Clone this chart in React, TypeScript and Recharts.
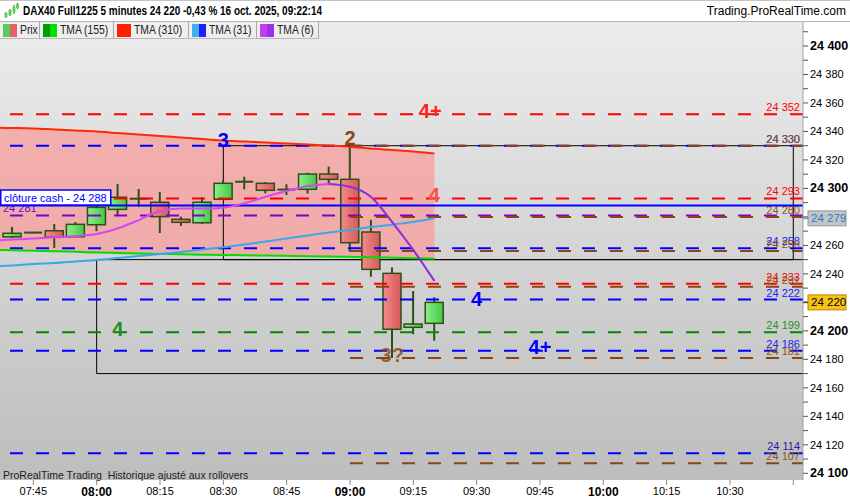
import React from "react";
import {
  ComposedChart,
  Bar,
  Line,
  Area,
  Scatter,
  XAxis,
  YAxis,
  CartesianGrid,
  ReferenceLine,
  ReferenceArea,
} from "recharts";

// 5 minute candles, DAX40 Full1225 (first slot only carries the averages)
const times = [
  "07:35", "07:40", "07:45", "07:50", "07:55", "08:00", "08:05", "08:10",
  "08:15", "08:20", "08:25", "08:30", "08:35", "08:40", "08:45", "08:50",
  "08:55", "09:00", "09:05", "09:10", "09:15", "09:20",
];
const opens = [
  null, 24266, 24268.8, 24270.3, 24266.1, 24274.5, 24285.3, 24292.8, 24290.3,
  24278.3, 24275.9, 24292.4, 24304.7, 24303.6, 24299.2, 24299.4, 24310.1,
  24306.4, 24269.4, 24240.4, 24202.5, 24205.3,
];
const highs = [
  null, 24273, 24269.5, 24275, 24276.4, 24292, 24303, 24299.6, 24297.5,
  24280.2, 24293.8, 24306, 24308.2, 24304.5, 24303, 24311, 24315.3, 24329.8,
  24277.8, 24244.6, 24228, 24223.6,
];
const lows = [
  null, 24265.5, 24268.5, 24258.2, 24266, 24270, 24281.3, 24287, 24268.7,
  24273.6, 24275, 24292, 24299.4, 24296.6, 24295.4, 24296.4, 24303.8, 24255.6,
  24238, 24181, 24197.6, 24193.1,
];
const closes = [
  null, 24268.5, 24269, 24265.7, 24274.8, 24286.7, 24293.8, 24292.8, 24280.2,
  24276.2, 24290.3, 24303.6, 24304.7, 24298.7, 24299.2, 24310.1, 24306.4,
  24261.9, 24243.2, 24201.1, 24204.8, 24220,
];
const tma155 = [
  24256.9, 24256.6, 24256.2, 24255.9, 24255.5, 24255.0, 24254.7, 24254.3,
  24254.0, 24253.8, 24253.5, 24253.3, 24253.1, 24252.9, 24252.7, 24252.4,
  24252.2, 24252.0, 24251.7, 24251.3, 24251.0, 24250.6,
];
const tma310 = [
  24342.6, 24342.4, 24342.1, 24341.4, 24340.7, 24340.0, 24338.9, 24337.9,
  24336.8, 24335.7, 24334.7, 24333.6, 24332.9, 24332.2, 24331.5, 24330.8,
  24330.1, 24329.3, 24328.0, 24327.0, 24325.9, 24324.6,
];
const tma31 = [
  24245.2, 24245.9, 24246.9, 24247.6, 24248.7, 24249.8, 24251.2, 24252.6,
  24254.0, 24255.4, 24257.1, 24258.7, 24260.6, 24262.7, 24264.8, 24267.0,
  24269.1, 24270.8, 24272.9, 24274.7, 24276.4, 24279,
];
const tma6 = [
  24263.4, 24264.1, 24264.8, 24265.7, 24266.6, 24268.0, 24272.0, 24277.8,
  24284.2, 24286.0, 24285.9, 24286.5, 24289.6, 24294.2, 24298.2, 24301.7,
  24303.1, 24301.2, 24294.0, 24276.4, 24256.8, 24235.0,
];

// horizontal levels
const redLevels = [24352, 24293, 24233];
const blueLevels = [24330, 24258, 24222, 24186, 24114];
const greenLevels = [24199];
const purpleLevels = [24281];
const brownLevels = [24330, 24280, 24256, 24231, 24181, 24107];
const brownFrom = "09:00";
const cashClose = 24288;
const lastPrice = 24220;

// boxes drawn on the chart
const boxFrom = ["08:30", "08:00"];
const boxTo = ["10:45", "11:00"];
const boxTop = [24330, 24250];
const boxBottom = [24250, 24170];

// wave annotations
const noteTexts = ["4+", "3", "2", "4", "4", "4", "4+", "3?"];
const noteTimes = ["09:19", "08:30", "09:00", "09:20", "09:30", "08:05", "09:45", "09:10"];
const notePrices = [24354.4, 24334, 24335.4, 24295.4, 24222.4, 24201, 24188.7, 24183];
const noteColors = ["#ff2020", "#0000ff", "#8b4513", "#ff4a4a", "#0000ff", "#1e8c1e", "#0000ff", "#8b4513"];

const xTickLabels = [
  "07:45", "08:00", "08:15", "08:30", "08:45", "09:00", "09:15", "09:30",
  "09:45", "10:00", "10:15", "10:30", "10:45",
];
const yTickValues = [
  24100, 24110, 24120, 24130, 24140, 24150, 24160, 24170, 24180, 24190, 24200,
  24210, 24220, 24230, 24240, 24250, 24260, 24270, 24280, 24290, 24300, 24310,
  24320, 24330, 24340, 24350, 24360, 24370, 24380, 24390, 24400, 24410,
];

const FONT = '"Liberation Sans", Arial, sans-serif';
const X_DOMAIN = [457.1, 647.3];
const Y_DOMAIN = [24095.3, 24416.85];
const CANDLE_W = 18;

const toMin = (s: string) => {
  const [h, m] = s.split(":").map(Number);
  return h * 60 + m;
};
const fmtTime = (v: number) =>
  `${String(Math.floor(v / 60)).padStart(2, "0")}:${String(v % 60).padStart(2, "0")}`;
const fmtPrice = (v: number) => {
  const s = String(Math.round(v));
  return `${s.slice(0, s.length - 3)} ${s.slice(-3)}`;
};

const peak = tma6.indexOf(Math.max(...tma6));
const lastTma31 = tma31[tma31.length - 1];
// axis markers cover the tick labels under them
const axisMarkers = [lastTma31, lastPrice];

const rows = times.map((time, i) => ({
  t: toMin(time),
  open: opens[i],
  high: highs[i],
  low: lows[i],
  close: closes[i],
  tma155: tma155[i],
  tma310: tma310[i],
  tma31: tma31[i],
  tma6Up: i <= peak ? tma6[i] : null,
  tma6Down: i >= peak ? tma6[i] : null,
}));

const notes = noteTexts.map((text, i) => ({
  t: toMin(noteTimes[i]),
  price: notePrices[i],
  text,
  color: noteColors[i],
}));

const WICK = "#2d5016";

const Candle = (props: any) => {
  const { x, y, width, height, payload } = props;
  if (!payload || payload.open == null) return null;
  const { open, close, high, low } = payload;
  const top = Math.min(y, y + height);
  const h = Math.abs(height);
  const k = high > low ? h / (high - low) : 0;
  const py = (v: number) => top + (high - v) * k;
  const cx = x + width / 2;
  const left = cx - CANDLE_W / 2;
  const bodyTop = py(Math.max(open, close));
  const bodyBot = py(Math.min(open, close));
  const up = close >= open;
  if (bodyBot - bodyTop < 1.2) {
    return (
      <g>
        <line x1={cx} x2={cx} y1={py(high)} y2={py(low)} stroke={WICK} strokeWidth={2} />
        <line x1={left} x2={left + CANDLE_W} y1={bodyTop} y2={bodyTop} stroke={WICK} strokeWidth={2} />
      </g>
    );
  }
  return (
    <g>
      <line x1={cx} x2={cx} y1={py(high)} y2={py(low)} stroke={WICK} strokeWidth={2} />
      <rect
        x={left}
        y={bodyTop}
        width={CANDLE_W}
        height={bodyBot - bodyTop}
        fill={up ? "url(#candleUp)" : "url(#candleDown)"}
        stroke={WICK}
        strokeWidth={1.5}
      />
    </g>
  );
};

const levelLabel =
  (text: string, color: string, side: "left" | "right" = "right") =>
  (p: any) => {
    const vb = p.viewBox || { x: 0, y: 0, width: 0 };
    const x = side === "right" ? vb.x + vb.width - 3 : vb.x + 3;
    return (
      <text
        x={x}
        y={vb.y - 3}
        textAnchor={side === "right" ? "end" : "start"}
        fontSize={11}
        fontFamily={FONT}
        fill={color}
      >
        {text}
      </text>
    );
  };

const cashLabel = (p: any) => {
  const vb = p.viewBox || { x: 0, y: 0 };
  return (
    <g>
      <rect x={vb.x + 0.75} y={vb.y - 15.5} width={110} height={15} fill="#fff" stroke="#0000ff" strokeWidth={1.5} />
      <text x={vb.x + 4} y={vb.y - 7.5} dominantBaseline="central" fontSize={11} fontFamily={FONT} fill="#0000ff">
        {`clôture cash -  ${fmtPrice(cashClose)}`}
      </text>
    </g>
  );
};

const axisBox =
  (text: string, bg: string, border: string, color: string, tick: string) =>
  (p: any) => {
    const vb = p.viewBox || { x: 0, y: 0, width: 0 };
    const x0 = vb.x + vb.width;
    return (
      <g>
        <line x1={x0} x2={x0 + 5} y1={vb.y} y2={vb.y} stroke={tick} strokeWidth={1.5} />
        <rect x={x0 + 5} y={vb.y - 7.5} width={38} height={15} fill={bg} stroke={border} />
        <text x={x0 + 8} y={vb.y} dominantBaseline="central" fontSize={11.5} fontFamily={FONT} fill={color}>
          {text}
        </text>
      </g>
    );
  };

const Note = (props: any) => {
  const { cx, cy, payload } = props;
  if (cx == null || cy == null) return null;
  return (
    <text
      x={cx}
      y={cy}
      textAnchor="middle"
      dominantBaseline="central"
      fontSize={20}
      fontWeight="bold"
      fontFamily={FONT}
      fill={payload.color}
      fillOpacity={payload.text === "3?" ? 0.8 : 1}
    >
      {payload.text}
    </text>
  );
};

const XTick = (props: any) => {
  const { x, y, payload } = props;
  const label = fmtTime(payload.value);
  if (label === "10:45") return <g />;
  const bold = label.endsWith(":00");
  return (
    <text
      x={x}
      y={y}
      dy="0.71em"
      textAnchor="middle"
      fontSize={bold ? 12 : 11}
      fontWeight={bold ? "bold" : "normal"}
      fontFamily={FONT}
      fill="#000"
    >
      {label}
    </text>
  );
};

const YTick = (props: any) => {
  const { x, y, payload } = props;
  const v = payload.value;
  if (v % 20 !== 0 || v > 24400) return <g />;
  if (axisMarkers.some((m) => Math.abs(m - v) < 6)) return <g />;
  const bold = v % 100 === 0;
  return (
    <text
      x={x}
      y={y}
      dominantBaseline="central"
      textAnchor="start"
      fontSize={bold ? 12.5 : 11}
      fontWeight={bold ? "bold" : "normal"}
      fontFamily={FONT}
      fill="#000"
    >
      {fmtPrice(v)}
    </text>
  );
};

const dash = "13 13";
const xEnd = X_DOMAIN[1];

const legendItems = [
  { name: "Prix", c1: "#5cc85c", c2: "#e06464", w: 40 },
  { name: "TMA (155)", c1: "#00a000", c2: "#00e000", w: 74 },
  { name: "TMA (310)", c1: "#ff2200", c2: "#ff2200", w: 75 },
  { name: "TMA (31)", c1: "#40b0f0", c2: "#2020ff", w: 68 },
  { name: "TMA (6)", c1: "#c040f0", c2: "#9a30e8", w: 62 },
];

export default function App() {
  return (
    <div style={{ position: "absolute", left: 0, top: 0, width: 850, height: 500, background: "#fff", fontFamily: FONT }}>
      <ComposedChart width={850} height={500} data={rows} margin={{ top: 22, right: 0, bottom: 0, left: 0 }}>
        <defs>
          <linearGradient id="plotBg" x1="0" y1="0" x2="0" y2="1">
            <stop offset="0%" stopColor="#ececec" />
            <stop offset="100%" stopColor="#bdbdbd" />
          </linearGradient>
          <linearGradient id="candleUp" x1="0" y1="0" x2="1" y2="0">
            <stop offset="0%" stopColor="#8af08a" />
            <stop offset="100%" stopColor="#44c844" />
          </linearGradient>
          <linearGradient id="candleDown" x1="0" y1="0" x2="1" y2="0">
            <stop offset="0%" stopColor="#f58a8a" />
            <stop offset="100%" stopColor="#d45a5a" />
          </linearGradient>
        </defs>
        <CartesianGrid horizontal={false} vertical={false} fill="url(#plotBg)" />
        <XAxis
          dataKey="t"
          type="number"
          domain={X_DOMAIN}
          allowDataOverflow
          ticks={xTickLabels.map(toMin)}
          interval={0}
          tick={<XTick />}
          tickSize={5}
          tickMargin={2}
          tickLine={{ stroke: "#888" }}
          axisLine={false}
          height={20}
        />
        <YAxis
          orientation="right"
          type="number"
          domain={Y_DOMAIN}
          allowDataOverflow
          ticks={yTickValues}
          interval={0}
          tick={<YTick />}
          tickSize={5}
          tickMargin={2}
          tickLine={{ stroke: "#555" }}
          axisLine={{ stroke: "#a0a0a0" }}
          width={47}
        />

        <Area
          dataKey={(d: any) => [d.tma155, d.tma310]}
          type="monotone"
          stroke="none"
          fill="#f89c9c"
          fillOpacity={0.75}
          isAnimationActive={false}
        />

        {boxFrom.map((from, i) => (
          <ReferenceArea
            key={`box-${i}`}
            x1={toMin(from)}
            x2={toMin(boxTo[i])}
            y1={boxBottom[i]}
            y2={boxTop[i]}
            fill="none"
            fillOpacity={0}
            stroke="#000"
            strokeWidth={1}
            ifOverflow="hidden"
          />
        ))}

        <Line dataKey="tma155" type="monotone" stroke="#00dd00" strokeWidth={2} dot={false} isAnimationActive={false} />
        <Line dataKey="tma31" type="monotone" stroke="#3aa8e8" strokeWidth={2} dot={false} isAnimationActive={false} />
        <Line dataKey="tma310" type="monotone" stroke="#ff2a00" strokeWidth={2} dot={false} isAnimationActive={false} />

        <Bar
          dataKey={(d: any) => (d.open == null ? null : [d.low, d.high])}
          barSize={CANDLE_W}
          shape={Candle}
          isAnimationActive={false}
        />

        {purpleLevels.map((v) => (
          <ReferenceLine key={`pu-${v}`} y={v} stroke="#8000d0" strokeWidth={2} strokeDasharray={dash} zIndex={350}
            label={levelLabel(fmtPrice(v), "#8000c0", "left")} />
        ))}
        {blueLevels.map((v) => (
          <ReferenceLine key={`bl-${v}`} y={v} stroke="#0000ff" strokeWidth={2} strokeDasharray={dash} zIndex={350}
            label={levelLabel(fmtPrice(v), v === 24114 ? "#4010a0" : "#2020ff")} />
        ))}
        {redLevels.map((v) => (
          <ReferenceLine key={`rd-${v}`} y={v} stroke="#ff0000" strokeWidth={2} strokeDasharray={dash} zIndex={350}
            label={levelLabel(fmtPrice(v), "#ff0000")} />
        ))}
        {greenLevels.map((v) => (
          <ReferenceLine key={`gr-${v}`} y={v} stroke="#008a00" strokeWidth={2} strokeDasharray={dash} zIndex={350}
            label={levelLabel(fmtPrice(v), "#2e8b2e")} />
        ))}
        {brownLevels.map((v) => (
          <ReferenceLine key={`br-${v}`}
            segment={[{ x: toMin(brownFrom), y: v }, { x: xEnd, y: v }]}
            stroke="#8b4513" strokeWidth={2} strokeDasharray={dash} zIndex={350}
            label={levelLabel(fmtPrice(v), "#8b5a13")} />
        ))}
        <ReferenceLine y={cashClose} stroke="#0000ff" strokeWidth={2} zIndex={350} label={cashLabel} />

        <Line dataKey="tma6Up" type="monotone" stroke="#d846ee" strokeWidth={2} dot={false} isAnimationActive={false} />
        <Line dataKey="tma6Down" type="monotone" stroke="#8a2be2" strokeWidth={2} dot={false} isAnimationActive={false} />

        <Scatter data={notes} dataKey="price" shape={Note} isAnimationActive={false} />

        <ReferenceLine y={lastTma31} stroke="none"
          label={axisBox(fmtPrice(lastTma31), "#c4c4c4", "#9a9a9a", "#1e7fd0", "#3aa8e8")} />
        <ReferenceLine y={lastPrice} stroke="none"
          label={axisBox(fmtPrice(lastPrice), "#f6c417", "#b08a00", "#000", "#000")} />
      </ComposedChart>

      {/* header */}
      <div style={{ position: "absolute", left: 0, top: 0, width: 850, height: 22, background: "#fff", borderTop: "1px solid #c4c4c4", borderBottom: "1px solid #b4b4b4", boxSizing: "border-box" }}>
        <svg width={16} height={16} style={{ position: "absolute", left: 3, top: 2 }}>
          <line x1={3} x2={3} y1={9} y2={15} stroke="#2d7016" />
          <rect x={1.5} y={10} width={3} height={4} fill="#5cd05c" />
          <line x1={7} x2={7} y1={6} y2={13} stroke="#2d7016" />
          <rect x={5.5} y={7} width={3} height={5} fill="#5cd05c" />
          <line x1={11} x2={11} y1={2} y2={11} stroke="#2d7016" />
          <rect x={9.5} y={4} width={3} height={5} fill="#5cd05c" />
          <line x1={14.5} x2={14.5} y1={0} y2={6} stroke="#2d7016" />
          <rect x={13} y={1} width={3} height={4} fill="#5cd05c" />
        </svg>
        <span style={{ position: "absolute", left: 23, top: 3, fontSize: 12, fontWeight: "bold", color: "#000", whiteSpace: "nowrap", transform: "scaleX(0.83)", transformOrigin: "left center" }}>
          DAX40 Full1225 5 minutes 24 220 -0,43 % 16 oct. 2025, 09:22:14
        </span>
        <span style={{ position: "absolute", right: 4, top: 3, fontSize: 12, color: "#000", whiteSpace: "nowrap" }}>
          Trading.ProRealTime.com
        </span>
      </div>

      {/* legend */}
      <div style={{ position: "absolute", left: 0, top: 22, height: 17, display: "flex", fontSize: 12, color: "#222" }}>
        {legendItems.map((it) => (
          <div key={it.name} style={{ width: it.w, boxSizing: "border-box", display: "flex", alignItems: "center", paddingLeft: 3, borderRight: "1px solid #a8a8a8", borderBottom: "1px solid #b8b8b8", background: "#eeeeee", whiteSpace: "nowrap", overflow: "hidden" }}>
            <span style={{ display: "inline-block", width: 7, height: 13, background: it.c1, flexShrink: 0 }} />
            <span style={{ display: "inline-block", width: 7, height: 13, background: it.c2, marginRight: 3, flexShrink: 0 }} />
            <span style={{ display: "inline-block", transform: "scaleX(0.86)", transformOrigin: "left center" }}>{it.name}</span>
          </div>
        ))}
      </div>

      <div style={{ position: "absolute", left: 3, top: 469, fontSize: 10.5, color: "#222", whiteSpace: "nowrap" }}>
        ProRealTime Trading&nbsp; Historique ajusté aux rollovers
      </div>
    </div>
  );
}
